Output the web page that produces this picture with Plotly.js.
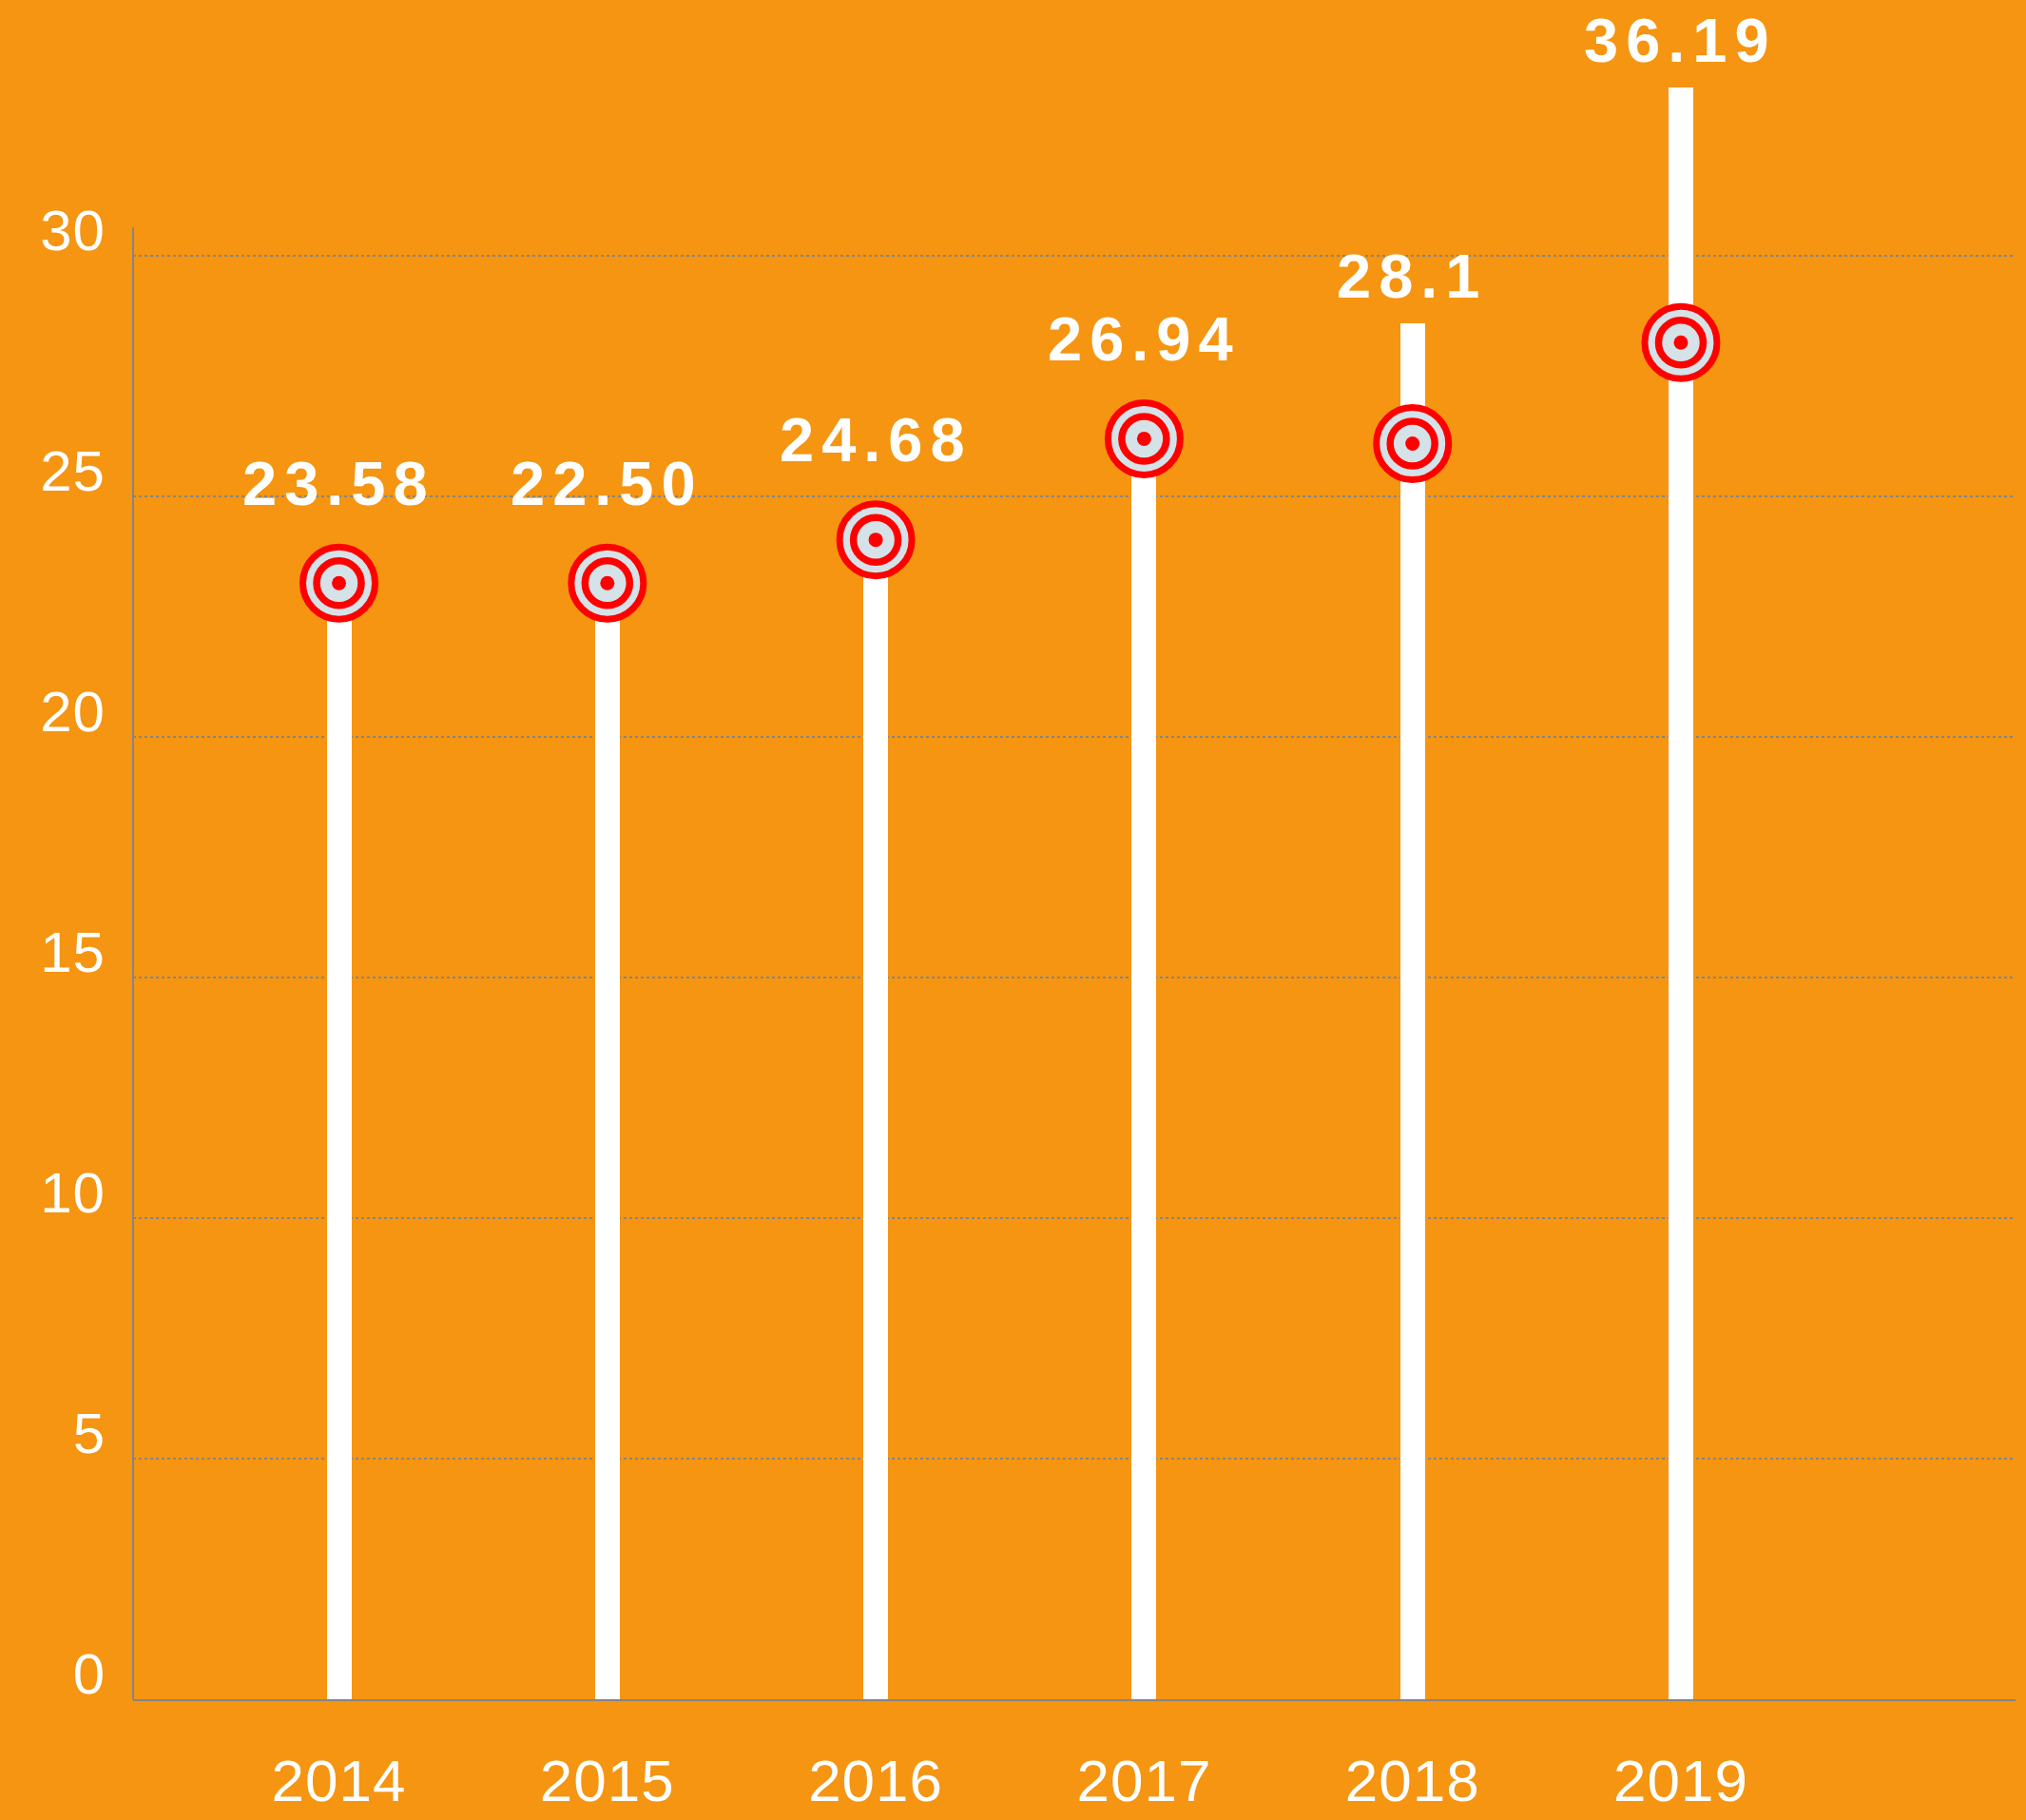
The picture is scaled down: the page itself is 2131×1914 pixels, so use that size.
<!DOCTYPE html>
<html>
<head>
<meta charset="utf-8">
<script src="https://cdn.plot.ly/plotly-3.0.1.min.js"></script>
<style>
  html, body { margin: 0; padding: 0; background: #f59511; }
  #chart { width: 2131px; height: 1914px; }
  .xtick text, .ytick text { letter-spacing: 1px; }
  .annotation-text { letter-spacing: 8px; }
</style>
</head>
<body>
<div id="chart"></div>
<script>
// ---- data ----
const years = [2014, 2015, 2016, 2017, 2018, 2019];
const barValues = [23.2, 23.2, 24.1, 26.2, 28.6, 33.5];
const targetValues = [23.2, 23.2, 24.1, 26.2, 26.1, 28.2];
const labelTexts = ['23.58', '22.50', '24.68', '26.94', '28.1', '36.19'];
const yTickVals = [0, 5, 10, 15, 20, 25, 30];
const yTickText = ['0', '5', '10', '15', '20', '25', '30'];
const xTickText = ['2014', '2015', '2016', '2017', '2018', '2019'];

// ---- styles ----
const BG = '#f59511';
const RED = '#ff0000';
const PALE = '#d5e2e8';
const GREY = '#858585';
const tickFamily = '"Liberation Sans Narrow", "Arial Narrow", "Liberation Sans", sans-serif';

const traces = [
  {
    type: 'bar', x: years, y: barValues, width: 0.092,
    marker: { color: '#ffffff', line: { width: 0 } },
    hoverinfo: 'skip', showlegend: false
  },
  {
    type: 'scatter', mode: 'markers', x: years, y: targetValues, cliponaxis: false,
    marker: { symbol: 'circle', size: 76, color: PALE, line: { color: RED, width: 7 } },
    hoverinfo: 'skip', showlegend: false
  },
  {
    type: 'scatter', mode: 'markers', x: years, y: targetValues, cliponaxis: false,
    marker: { symbol: 'circle', size: 47, color: PALE, line: { color: RED, width: 7.5 } },
    hoverinfo: 'skip', showlegend: false
  },
  {
    type: 'scatter', mode: 'markers', x: years, y: targetValues, cliponaxis: false,
    marker: { symbol: 'circle', size: 15, color: RED, line: { width: 0 } },
    hoverinfo: 'skip', showlegend: false
  }
];

const annotations = years.map((yr, i) => {
  const targetOnTop = targetValues[i] >= barValues[i];
  return {
    x: yr, y: Math.max(barValues[i], targetValues[i]),
    xref: 'x', yref: 'y',
    text: labelTexts[i], showarrow: false,
    xanchor: 'center', yanchor: 'middle',
    yshift: targetOnTop ? 105 : 50,
    font: { family: '"Liberation Sans", Arial, sans-serif', size: 65, color: '#ffffff', weight: 700 }
  };
});

const layout = {
  width: 2131, height: 1914,
  paper_bgcolor: BG, plot_bgcolor: BG,
  margin: { l: 140, r: 11, t: 0, b: 127, pad: 0 },
  showlegend: false,
  xaxis: {
    range: [2013.233, 2020.247],
    tickvals: years, ticktext: xTickText,
    showgrid: false, zeroline: false,
    showline: true, linecolor: GREY, linewidth: 2,
    ticks: '', ticklabelstandoff: 31,
    tickfont: { family: tickFamily, size: 62, color: '#ffffff' },
    fixedrange: true
  },
  yaxis: {
    range: [0, 35.32],
    tickvals: yTickVals, ticktext: yTickText,
    showgrid: true, gridcolor: GREY, gridwidth: 1.5, griddash: 'dot',
    zeroline: false, showline: false,
    ticks: '', ticklabelstandoff: 28, ticklabelshift: -27,
    tickfont: { family: tickFamily, size: 60, color: '#ffffff' },
    fixedrange: true
  },
  shapes: [
    {
      type: 'line', xref: 'paper', yref: 'y',
      x0: 0, x1: 0, y0: 0, y1: 30.59,
      line: { color: GREY, width: 2 }
    }
  ],
  annotations: annotations,
  bargap: 0
};

Plotly.newPlot('chart', traces, layout, { displayModeBar: false, staticPlot: true });
</script>
</body>
</html>
